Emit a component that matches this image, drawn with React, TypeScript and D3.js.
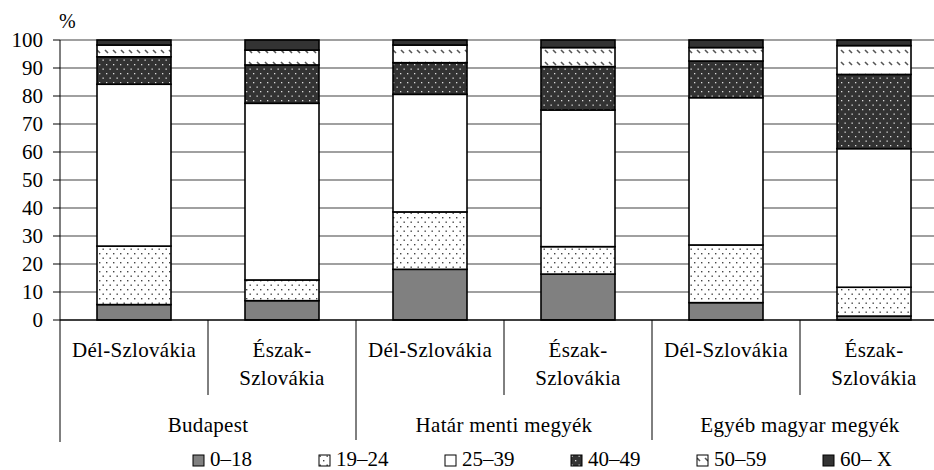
import {useEffect, useRef} from "react"

import * as d3 from "d3"

const groups = ["Budapest", "Határ menti megyék", "Egyéb magyar megyék"]
const regions = [["Dél-Szlovákia"], ["Észak-", "Szlovákia"]]
const ageGroups = ["0–18", "19–24", "25–39", "40–49", "50–59", "60– X"]

// one value per bar: Budapest Dél, Budapest Észak, Határ Dél, Határ Észak, Egyéb Dél, Egyéb Észak
const age0to18 = [5.5, 6.9, 18.1, 16.4, 6.2, 1.4]
const age19to24 = [20.9, 7.4, 20.5, 9.8, 20.6, 10.3]
const age25to39 = [57.8, 63.1, 42.0, 48.8, 52.6, 49.5]
const age40to49 = [9.8, 13.7, 11.3, 15.5, 13.1, 26.5]
const age50to59 = [4.2, 5.3, 6.3, 6.8, 4.8, 10.3]
const age60plus = [1.8, 3.6, 1.8, 2.7, 2.7, 2.0]

const yTicks = [0, 10, 20, 30, 40, 50, 60, 70, 80, 90, 100]

const fills = [
  "#808080",
  "url(#dotsLight)",
  "#ffffff",
  "url(#dotsDark)",
  "url(#hatch)",
  "#333333",
]

const App = (): JSX.Element => {
  const ref = useRef<SVGSVGElement>(null)

  useEffect(() => {
    document.body.style.margin = "0"
    const svg = d3.select(ref.current)
    svg.selectAll("*").remove()

    const seriesValues = [age0to18, age19to24, age25to39, age40to49, age50to59, age60plus]
    const barCount = groups.length * regions.length
    const rows = d3.range(barCount).map((i) => {
      const row: any = {index: i}
      ageGroups.forEach((age, k) => (row[age] = seriesValues[k][i]))
      return row
    })
    const stacked = d3.stack().keys(ageGroups)(rows)

    const left = 60
    const step = 148
    const xScale = d3
      .scaleBand<number>()
      .domain(d3.range(barCount))
      .range([left, left + step * barCount])
      .paddingInner(0.5)
      .paddingOuter(0.25)
    const yScale = d3.scaleLinear().domain([0, 100]).range([320, 40])

    // patterns
    const defs = svg.append("defs")
    const dotsLight = defs
      .append("pattern")
      .attr("id", "dotsLight")
      .attr("patternUnits", "userSpaceOnUse")
      .attr("width", 7)
      .attr("height", 9)
    dotsLight.append("rect").attr("width", 7).attr("height", 9).attr("fill", "#fff")
    dotsLight.append("rect").attr("x", 1).attr("y", 1).attr("width", 1.4).attr("height", 1.4).attr("fill", "#444")
    dotsLight.append("rect").attr("x", 4.5).attr("y", 5.5).attr("width", 1.4).attr("height", 1.4).attr("fill", "#444")

    const dotsDark = defs
      .append("pattern")
      .attr("id", "dotsDark")
      .attr("patternUnits", "userSpaceOnUse")
      .attr("width", 7)
      .attr("height", 9)
    dotsDark.append("rect").attr("width", 7).attr("height", 9).attr("fill", "#333")
    dotsDark.append("rect").attr("x", 1).attr("y", 1).attr("width", 1.3).attr("height", 1.3).attr("fill", "#ddd")
    dotsDark.append("rect").attr("x", 4.5).attr("y", 5.5).attr("width", 1.3).attr("height", 1.3).attr("fill", "#ddd")

    const hatch = defs
      .append("pattern")
      .attr("id", "hatch")
      .attr("patternUnits", "userSpaceOnUse")
      .attr("width", 8)
      .attr("height", 12)
    hatch.append("rect").attr("width", 8).attr("height", 12).attr("fill", "#fff")
    hatch
      .append("path")
      .attr("d", "M1,2 L4,5")
      .attr("stroke", "#555")
      .attr("stroke-width", 1.6)

    // gridlines
    svg
      .append("g")
      .selectAll("line")
      .data(yTicks.filter((t) => t > 0))
      .join("line")
      .attr("x1", left)
      .attr("x2", 934)
      .attr("y1", (d) => yScale(d))
      .attr("y2", (d) => yScale(d))
      .attr("stroke", "#808080")
      .attr("stroke-width", 1.5)

    // y axis
    const yAxis = svg.append("g")
    yAxis
      .append("line")
      .attr("x1", left)
      .attr("x2", left)
      .attr("y1", yScale(100))
      .attr("y2", 442)
      .attr("stroke", "#000")
    yAxis
      .selectAll("line.tick")
      .data(yTicks)
      .join("line")
      .attr("class", "tick")
      .attr("x1", left - 7)
      .attr("x2", left)
      .attr("y1", (d) => yScale(d))
      .attr("y2", (d) => yScale(d))
      .attr("stroke", "#000")
    yAxis
      .selectAll("text")
      .data(yTicks)
      .join("text")
      .attr("x", 43)
      .attr("y", (d) => yScale(d))
      .attr("dy", "0.35em")
      .attr("text-anchor", "end")
      .text((d) => d)
    yAxis.append("text").attr("x", 59).attr("y", 28).style("font-size", "20px").text("%")

    // bars
    const chartGroup = svg.append("g")
    stacked.forEach((series, k) => {
      chartGroup
        .append("g")
        .selectAll("rect")
        .data(series)
        .join("rect")
        .attr("x", (_, i) => xScale(i)!)
        .attr("width", xScale.bandwidth())
        .attr("y", (d) => yScale(d[1]))
        .attr("height", (d) => yScale(d[0]) - yScale(d[1]))
        .attr("fill", fills[k])
        .attr("stroke", "#000")
        .attr("stroke-width", 1.6)
    })

    // x axis
    svg
      .append("line")
      .attr("x1", left)
      .attr("x2", 934)
      .attr("y1", yScale(0))
      .attr("y2", yScale(0))
      .attr("stroke", "#000")
      .attr("stroke-width", 1.5)

    const xAxis = svg.append("g").style("letter-spacing", "0.3px")
    d3.range(1, barCount).forEach((i) => {
      xAxis
        .append("line")
        .attr("x1", left + i * step)
        .attr("x2", left + i * step)
        .attr("y1", yScale(0))
        .attr("y2", i % regions.length === 0 ? 440 : 395)
        .attr("stroke", "#000")
    })
    rows.forEach((row) => {
      const lines = regions[row.index % regions.length]
      const cx = xScale(row.index)! + xScale.bandwidth() / 2
      lines.forEach((line, j) => {
        xAxis
          .append("text")
          .attr("x", cx)
          .attr("y", 357 + j * 28)
          .attr("text-anchor", "middle")
          .text(line)
      })
    })
    groups.forEach((group, g) => {
      xAxis
        .append("text")
        .attr("x", left + step * regions.length * (g + 0.5))
        .attr("y", 432)
        .attr("text-anchor", "middle")
        .text(group)
    })

    // legend
    const legend = svg.append("g")
    ageGroups.forEach((age, k) => {
      const lx = 193 + k * 126
      legend
        .append("rect")
        .attr("x", lx)
        .attr("y", 455)
        .attr("width", 11)
        .attr("height", 11)
        .attr("fill", fills[k])
        .attr("stroke", "#000")
      legend
        .append("text")
        .attr("x", lx + 17)
        .attr("y", 466)
        .text(age)
    })
  }, [])

  return (
    <svg
      ref={ref}
      width={934}
      height={470}
      style={{display: "block", fontFamily: "\"Liberation Serif\"", fontSize: "21px"}}
    />
  )
}

export default App
